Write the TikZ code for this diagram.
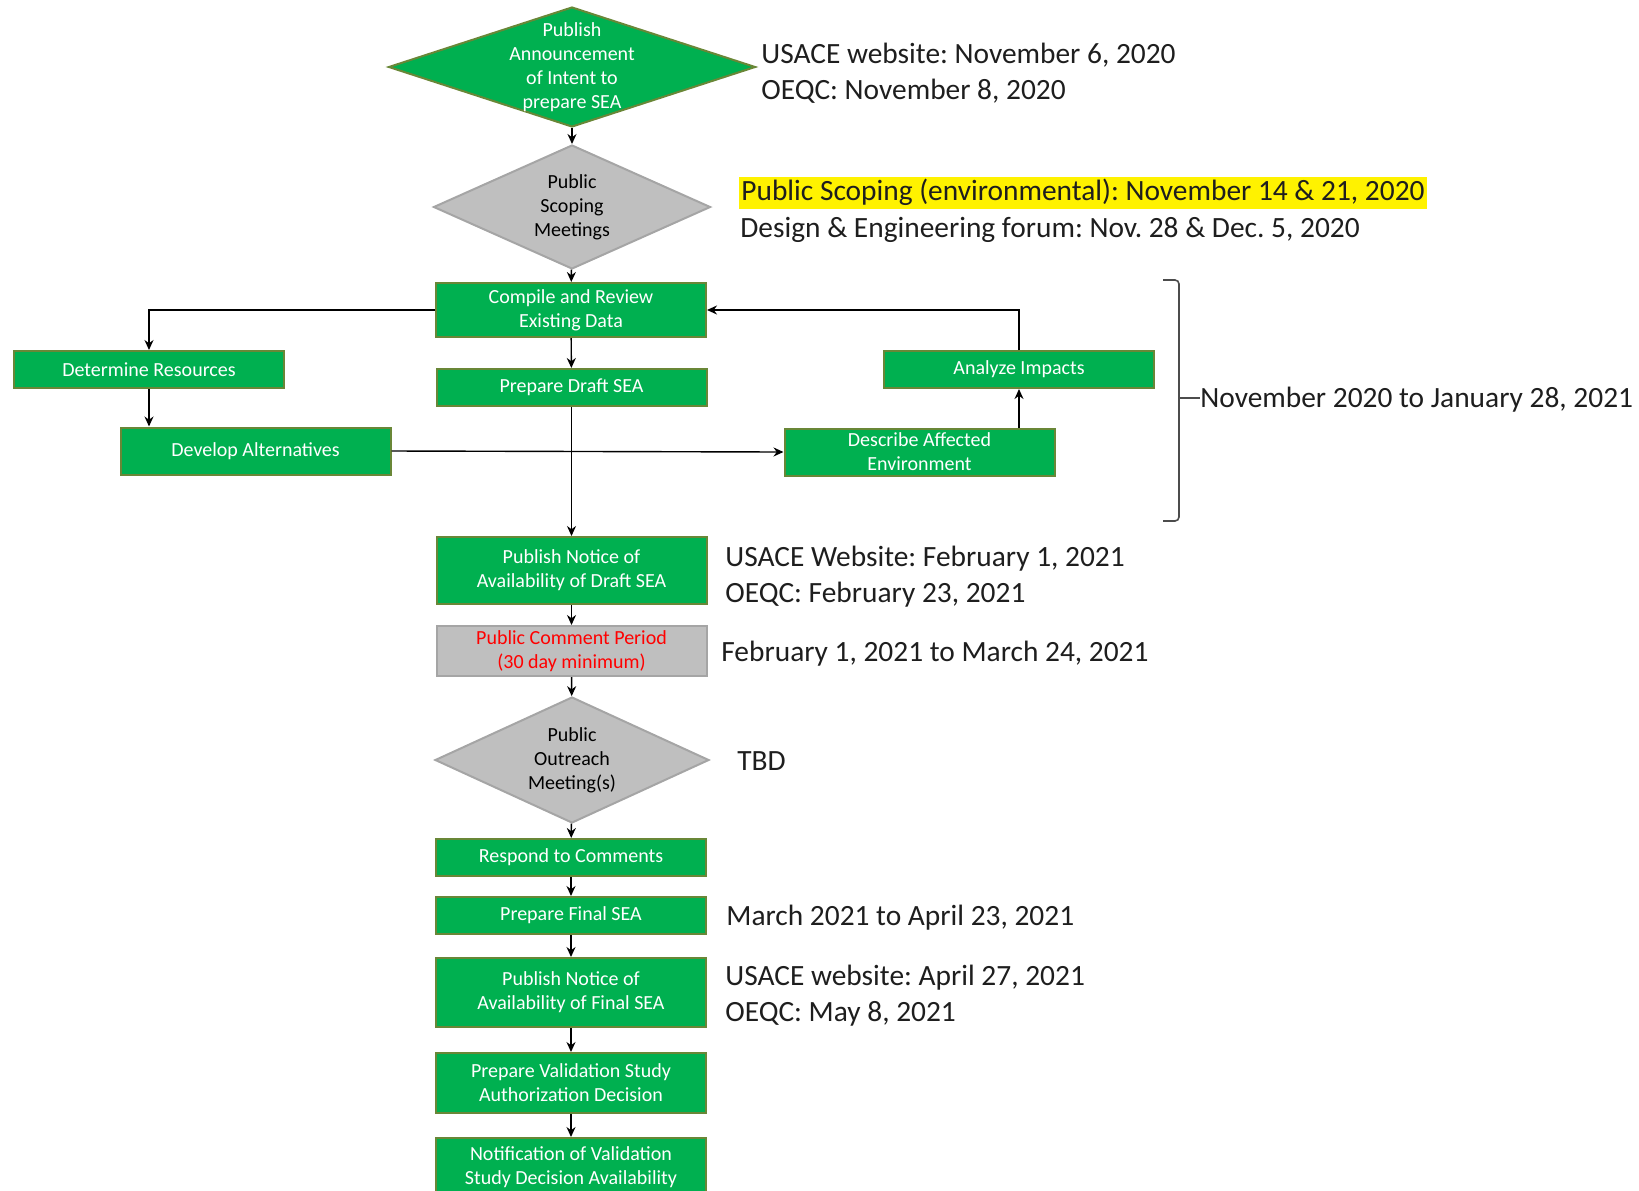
\documentclass[tikz,border=0pt]{standalone}
\usepackage{fontspec}
\setmainfont{Carlito}
\usetikzlibrary{shapes.geometric,arrows.meta}
\definecolor{boxgreen}{RGB}{0,176,80}
\definecolor{boxedge}{RGB}{105,135,55}
\definecolor{boxgray}{RGB}{191,191,191}
\definecolor{grayedge}{RGB}{165,165,165}
\definecolor{notetext}{RGB}{30,30,30}
\newcommand{\boxfont}{\fontsize{10}{12}\selectfont}
\newcommand{\notefont}{\fontsize{14.7}{18}\selectfont}
\frenchspacing
\tikzset{
  greenbox/.style={draw=boxedge, fill=boxgreen, text=white, line width=1pt,
    minimum width=135pt, inner sep=0pt, align=center, font=\boxfont},
  graybox/.style={greenbox, draw=grayedge, fill=boxgray},
  greendiamond/.style={diamond, draw=boxedge, fill=boxgreen, line width=1pt,
    inner sep=0pt, minimum width=183.5pt, minimum height=60pt},
  graydiamond/.style={greendiamond, draw=grayedge, fill=boxgray,
    minimum width=138.5pt, minimum height=62pt},
  dtext/.style={font=\boxfont, align=center},
  note/.style={anchor=west, align=left, inner sep=0pt, font=\notefont, text=notetext},
  flow/.style={->, line width=0.7pt}
}
\begin{document}
\begin{tikzpicture}[x=0.5pt, y=-0.5pt, >={Stealth[length=5pt,width=4.5pt]}]
\useasboundingbox (0,0) rectangle (1639,1190);
% main column
\node[greendiamond, label={[dtext, white]center:Publish\\Announcement\\of Intent to\\prepare SEA}] (intent) at (572,67) {};
\node[graydiamond, label={[dtext, black]center:Public\\Scoping\\Meetings}] (scopingmtg) at (572,207) {};
\node[greenbox, minimum height=27pt] (compile) at (571,310) {Compile and Review\\Existing Data};
\node[greenbox, minimum height=18.5pt] (draft) at (571.5,387.5) {Prepare Draft SEA};
\node[greenbox, minimum height=33.5pt] (draftnotice) at (571.5,570.5) {Publish Notice of\\Availability of Draft SEA};
\node[graybox, text=red, minimum height=25pt] (comment) at (571.5,651) {Public Comment Period\\(30 day minimum)};
\node[graydiamond, minimum width=137pt, minimum height=63pt, label={[dtext, black]center:Public\\Outreach\\Meeting(s)}] (outreach) at (572,760) {};
\node[greenbox, minimum height=18.5pt] (respond) at (571,857.5) {Respond to Comments};
\node[greenbox, minimum height=18.5pt] (finalsea) at (571,915.5) {Prepare Final SEA};
\node[greenbox, minimum height=34.5pt] (finalnotice) at (571,992.5) {Publish Notice of\\Availability of Final SEA};
\node[greenbox, minimum height=30pt] (validation) at (571,1083) {Prepare Validation Study\\Authorization Decision};
\node[greenbox, minimum height=29pt] (notification) at (571,1167) {Notification of Validation\\Study Decision Availability};
% side loop
\node[greenbox, minimum height=18.5pt] (resources) at (149,369.5) {Determine Resources};
\node[greenbox, minimum height=23.5pt] (alternatives) at (255.5,451) {Develop Alternatives};
\node[greenbox, minimum height=23.5pt] (environment) at (919.5,452) {Describe Affected\\Environment};
\node[greenbox, minimum height=18.5pt] (impacts) at (1019,369.5) {Analyze Impacts};

\draw[flow] (intent) -- (scopingmtg);
\draw[flow] (scopingmtg) -- (compile);
\draw[flow] (compile) -- (draft);
\draw[flow] (draft) -- (draftnotice);
\draw[flow] (draftnotice) -- (comment);
\draw[flow] (comment) -- (outreach);
\draw[flow] (outreach) -- (respond);
\draw[flow] (respond) -- (finalsea);
\draw[flow] (finalsea) -- (finalnotice);
\draw[flow] (finalnotice) -- (validation);
\draw[flow] (validation) -- (notification);
\draw[flow] (compile.west) -| (resources.north);
\draw[flow] (resources.south) -- (resources.south |- alternatives.north);
\draw[flow] (alternatives.east) -- (environment.west);
\draw[flow] (environment.north -| impacts.south) -- (impacts.south);
\draw[flow] (impacts.north) |- (compile.east);

% dates
\node[note] (intentnote) at (761,73) {USACE website: November 6, 2020\\OEQC: November 8, 2020};
\node[note, fill=yellow, inner xsep=1pt, text height=11.5pt, text depth=3.8pt, inner ysep=0.4pt] (scoping) at (739,193) {Public Scoping (environmental): November 14 \& 21, 2020};
\node[note] (forum) at (740,230) {Design \& Engineering forum: Nov. 28 \& Dec. 5, 2020};
\node[note] (draftnote) at (725,577) {USACE Website: February 1, 2021\\OEQC: February 23, 2021};
\node[note] (commentnote) at (721,654) {February 1, 2021 to March 24, 2021};
\node[note] (tbd) at (737,761) {TBD};
\node[note] (finalnote) at (726,918) {March 2021 to April 23, 2021};
\node[note] (finalpubnote) at (725,996) {USACE website: April 27, 2021\\OEQC: May 8, 2021};
\node[note] (period) at (1200,400) {November 2020 to January 28, 2021};

% bracket
\coordinate (bracemid) at (1179,398);
\draw[line width=0.8pt, draw=black!70, rounded corners=2pt] (1163,280) -- (1179,280) -- (1179,521) -- (1163,521);
\draw[line width=0.8pt, draw=black!70] (bracemid) -- (period.west |- bracemid);
\end{tikzpicture}
\end{document}
